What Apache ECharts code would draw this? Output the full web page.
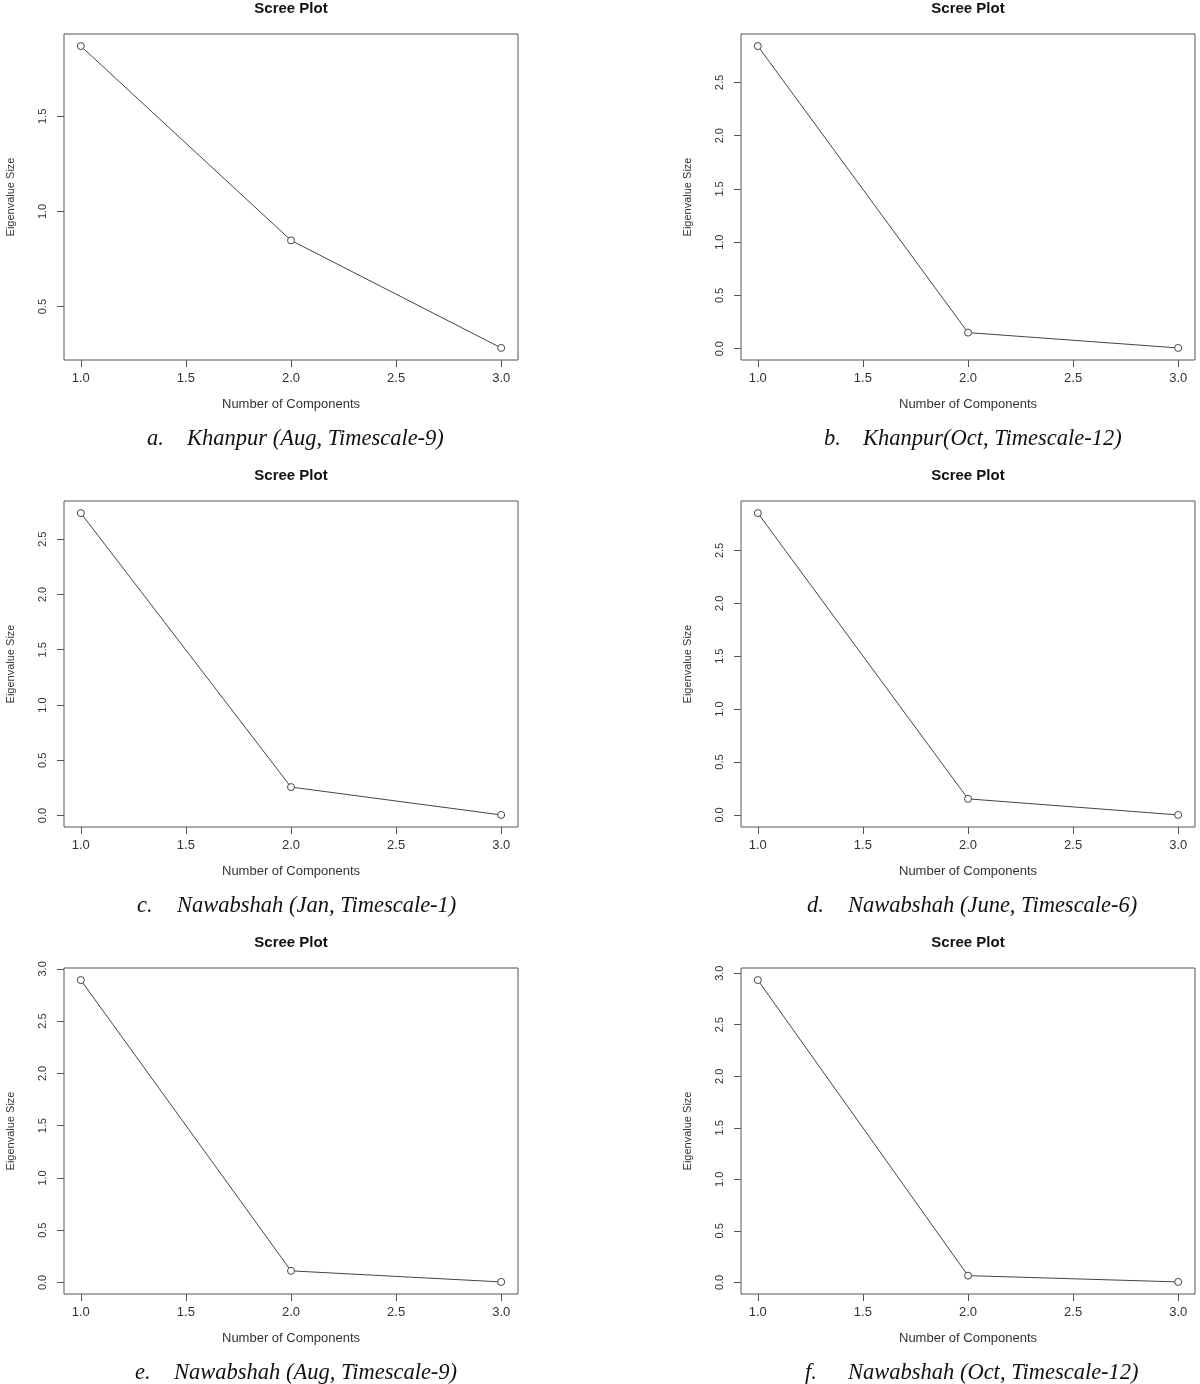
<!DOCTYPE html>
<html>
<head>
<meta charset="utf-8">
<script src="https://cdn.jsdelivr.net/npm/echarts@6/dist/echarts.min.js"></script>
<style>
  html, body { margin: 0; padding: 0; background: #fff; }
  #chart { width: 1200px; height: 1384px; }
</style>
</head>
<body>
<div id="chart"></div>
<script>
// ---- data ----
const components = [1, 2, 3];
const eigenA = [1.869, 0.848, 0.283];
const eigenB = [2.842, 0.151, 0.007];
const eigenC = [2.736, 0.258, 0.006];
const eigenD = [2.853, 0.152, 0.000];
const eigenE = [2.893, 0.111, 0.005];
const eigenF = [2.933, 0.066, 0.005];

const xTicks = [1.0, 1.5, 2.0, 2.5, 3.0];
const yTicksA = [0.5, 1.0, 1.5];
const yTicksB = [0.0, 0.5, 1.0, 1.5, 2.0, 2.5];
const yTicksC = [0.0, 0.5, 1.0, 1.5, 2.0, 2.5];
const yTicksD = [0.0, 0.5, 1.0, 1.5, 2.0, 2.5];
const yTicksE = [0.0, 0.5, 1.0, 1.5, 2.0, 2.5, 3.0];
const yTicksF = [0.0, 0.5, 1.0, 1.5, 2.0, 2.5, 3.0];

const panelLetters = ['a.', 'b.', 'c.', 'd.', 'e.', 'f.'];
const panelCaptions = [
  'Khanpur (Aug, Timescale-9)',
  'Khanpur(Oct, Timescale-12)',
  'Nawabshah (Jan, Timescale-1)',
  'Nawabshah (June, Timescale-6)',
  'Nawabshah (Aug, Timescale-9)',
  'Nawabshah (Oct, Timescale-12)'
];
const plotTitle = 'Scree Plot';
const xTitle = 'Number of Components';
const yTitle = 'Eigenvalue Size';

const eigenSets = [eigenA, eigenB, eigenC, eigenD, eigenE, eigenF];
const yTickSets = [yTicksA, yTicksB, yTicksC, yTicksD, yTicksE, yTicksF];

// ---- layout ----
const colLeft = [64, 741];
const rowTop = [34, 501, 968];
const boxW = 454, boxH = 326;
const captionPos = [[147, 187], [824, 863], [137, 177], [807, 848], [135, 174], [805, 848]];

const SANS = '"Liberation Sans", Arial, Helvetica, sans-serif';
const SERIF = '"Liberation Serif", "Times New Roman", serif';

const grids = [], xAxes = [], yAxes = [], series = [], graphics = [];

eigenSets.forEach(function (vals, i) {
  const col = i % 2, row = Math.floor(i / 2);
  const left = colLeft[col], top = rowTop[row];
  // R-style 4% axis extension
  const lo = Math.min.apply(null, vals), hi = Math.max.apply(null, vals);
  const pad = (hi - lo) * 0.04;

  grids.push({
    left: left, top: top, width: boxW, height: boxH,
    show: true, borderColor: '#555', borderWidth: 1, backgroundColor: 'transparent',
    containLabel: false
  });
  xAxes.push({
    type: 'value', gridIndex: i, min: 0.92, max: 3.08,
    name: xTitle, nameLocation: 'middle', nameGap: 38,
    nameTextStyle: { fontFamily: SANS, fontSize: 13, color: '#333' },
    axisLine: { show: false, onZero: false },
    axisTick: { show: true, length: 7, inside: false, customValues: xTicks,
      lineStyle: { color: '#555', width: 1 } },
    axisLabel: { show: true, customValues: xTicks, margin: 12,
      fontFamily: SANS, fontSize: 13, color: '#333',
      formatter: function (v) { return Number(v).toFixed(1); } },
    splitLine: { show: false }
  });
  yAxes.push({
    type: 'value', gridIndex: i, min: lo - pad, max: hi + pad,
    name: yTitle, nameLocation: 'middle', nameGap: 48,
    nameTextStyle: { fontFamily: SANS, fontSize: 11, color: '#333' },
    axisLine: { show: false, onZero: false },
    axisTick: { show: true, length: 7, inside: false, customValues: yTickSets[i],
      lineStyle: { color: '#555', width: 1 } },
    axisLabel: { show: true, customValues: yTickSets[i], margin: 16, rotate: 90,
      fontFamily: SANS, fontSize: 11, color: '#333',
      formatter: function (v) { return Number(v).toFixed(1); } },
    splitLine: { show: false }
  });
  series.push({
    type: 'line', xAxisIndex: i, yAxisIndex: i,
    data: components.map(function (c, k) { return [c, vals[k]]; }),
    symbol: 'circle', symbolSize: 7, showSymbol: true,
    lineStyle: { color: '#444', width: 1 },
    itemStyle: { color: '#fff', borderColor: '#444', borderWidth: 1 },
    animation: false, silent: true, z: 3
  });

  graphics.push({
    type: 'text', x: left + boxW / 2, y: top - 25,
    style: { text: plotTitle, font: 'bold 15px ' + SANS, fill: '#111',
      textAlign: 'center', align: 'center', textVerticalAlign: 'middle', verticalAlign: 'middle' }
  });
  graphics.push({
    type: 'text', x: captionPos[i][0], y: top + 405,
    style: { text: panelLetters[i], font: 'italic 22.5px ' + SERIF, fill: '#111',
      textAlign: 'left', align: 'left', textVerticalAlign: 'middle', verticalAlign: 'middle' }
  });
  graphics.push({
    type: 'text', x: captionPos[i][1], y: top + 405,
    style: { text: panelCaptions[i], font: 'italic 22.5px ' + SERIF, fill: '#111',
      textAlign: 'left', align: 'left', textVerticalAlign: 'middle', verticalAlign: 'middle' }
  });
});

const chart = echarts.init(document.getElementById('chart'), null, { renderer: 'canvas' });
chart.setOption({
  animation: false,
  backgroundColor: '#fff',
  grid: grids,
  xAxis: xAxes,
  yAxis: yAxes,
  series: series,
  graphic: graphics
});
</script>
</body>
</html>
